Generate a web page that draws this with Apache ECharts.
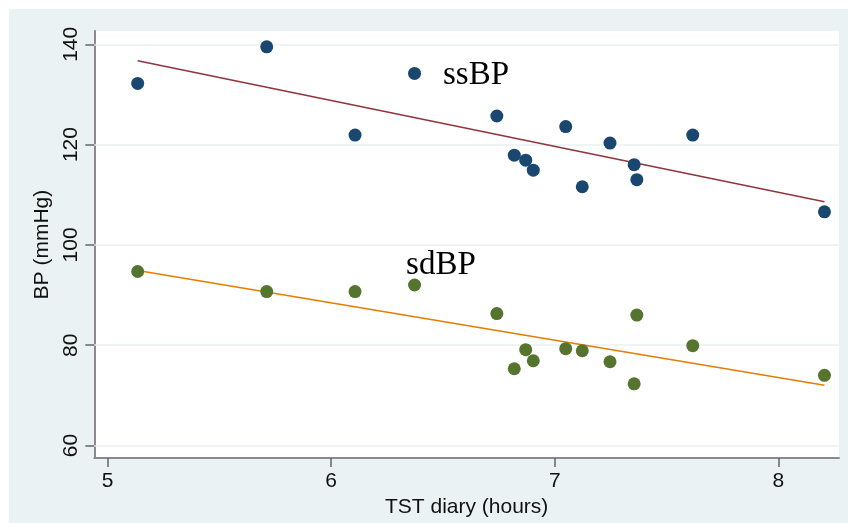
<!DOCTYPE html>
<html>
<head>
<meta charset="utf-8">
<script src="https://cdn.jsdelivr.net/npm/echarts@6/dist/echarts.min.js"></script>
<style>
html,body{margin:0;padding:0;background:#fff;width:848px;height:523px;overflow:hidden;}
#c{position:absolute;left:9px;top:9px;width:839px;height:514px;}
</style>
</head>
<body>
<div id="c"></div>
<script>
// TST diary (hours)
const tstHours = [5.135, 5.712, 6.107, 6.373, 6.741, 6.819, 6.870, 6.904, 7.049, 7.123, 7.247, 7.355, 7.367, 7.617, 8.206];
// seated systolic BP
const ssBP = [132.2, 139.5, 121.9, 134.2, 125.7, 117.9, 116.9, 114.9, 123.6, 111.6, 120.3, 116.0, 113.0, 121.9, 106.6];
// seated diastolic BP
const sdBP = [94.7, 90.7, 90.7, 92.0, 86.3, 75.3, 79.1, 76.9, 79.3, 78.9, 76.7, 72.3, 86.0, 79.9, 74.0];
// fitted line endpoints [x, y]
const ssFit = [[5.135, 136.7], [8.206, 108.6]];
const sdFit = [[5.135, 94.9], [8.206, 72.0]];
const xTicks = [5, 6, 7, 8];
const yTicks = [60, 80, 100, 120, 140];
// annotation anchors [x (left edge), y (baseline)]
const annotations = [
  {text: 'ssBP', x: 6.500, y: 131.9},
  {text: 'sdBP', x: 6.335, y: 94.0}
];

const chart = echarts.init(document.getElementById('c'), null, {renderer: 'canvas'});
const pts = (ys) => tstHours.map((x, i) => [x, ys[i]]);
const labelFont = {fontFamily: '"Liberation Sans", Arial, sans-serif', fontSize: 21, color: '#111'};

chart.setOption({
  backgroundColor: '#eaf2f3',
  animation: false,
  grid: {left: 85.3, right: 9, top: 22, bottom: 64.7, show: true, backgroundColor: '#ffffff', borderWidth: 0},
  xAxis: {
    type: 'value', min: 4.941, max: 8.271,
    name: 'TST diary (hours)', nameLocation: 'middle', nameGap: 36,
    nameTextStyle: labelFont,
    axisLine: {show: true, onZero: false, lineStyle: {color: '#8a8a8a', width: 2}},
    axisTick: {show: true, customValues: xTicks, length: 9, lineStyle: {color: '#666', width: 1.5}},
    axisLabel: Object.assign({customValues: xTicks, margin: 13}, labelFont),
    splitLine: {show: false}
  },
  yAxis: {
    type: 'value', min: 57.49, max: 142.65,
    name: 'BP (mmHg)', nameLocation: 'middle', nameGap: 32,
    nameTextStyle: labelFont,
    axisLine: {show: true, onZero: false, lineStyle: {color: '#8a8a8a', width: 2}},
    axisTick: {show: true, customValues: yTicks, length: 9, lineStyle: {color: '#666', width: 1.5}},
    axisLabel: Object.assign({customValues: yTicks, rotate: 90, margin: 13}, labelFont),
    splitLine: {show: false}
  },
  series: [
    {
      type: 'line', data: [], z: 1, silent: true,
      markLine: {
        silent: true, symbol: 'none', animation: false, z: 1,
        label: {show: false},
        lineStyle: {color: '#eaf2f3', width: 1.5, type: 'solid'},
        data: yTicks.map(v => ({yAxis: v}))
      }
    },
    {type: 'line', data: ssFit, symbol: 'none', z: 3, lineStyle: {color: '#90353b', width: 1.6}},
    {type: 'line', data: sdFit, symbol: 'none', z: 3, lineStyle: {color: '#e37e00', width: 1.6}},
    {type: 'scatter', data: pts(ssBP), symbol: 'circle', symbolSize: 13, z: 4, itemStyle: {color: '#1a476f', opacity: 1}},
    {type: 'scatter', data: pts(sdBP), symbol: 'circle', symbolSize: 13, z: 4, itemStyle: {color: '#55752f', opacity: 1}}
  ]
});

const fs = 33;
chart.setOption({
  graphic: annotations.map(a => {
    const p = chart.convertToPixel({gridIndex: 0}, [a.x, a.y]);
    return {
      type: 'text', x: p[0], y: p[1] - fs * 0.30, z: 10, silent: true,
      style: {text: a.text, fill: '#000', font: fs + 'px "Liberation Serif", "Times New Roman", serif', textAlign: 'left', textVerticalAlign: 'middle'}
    };
  })
});
</script>
</body>
</html>
